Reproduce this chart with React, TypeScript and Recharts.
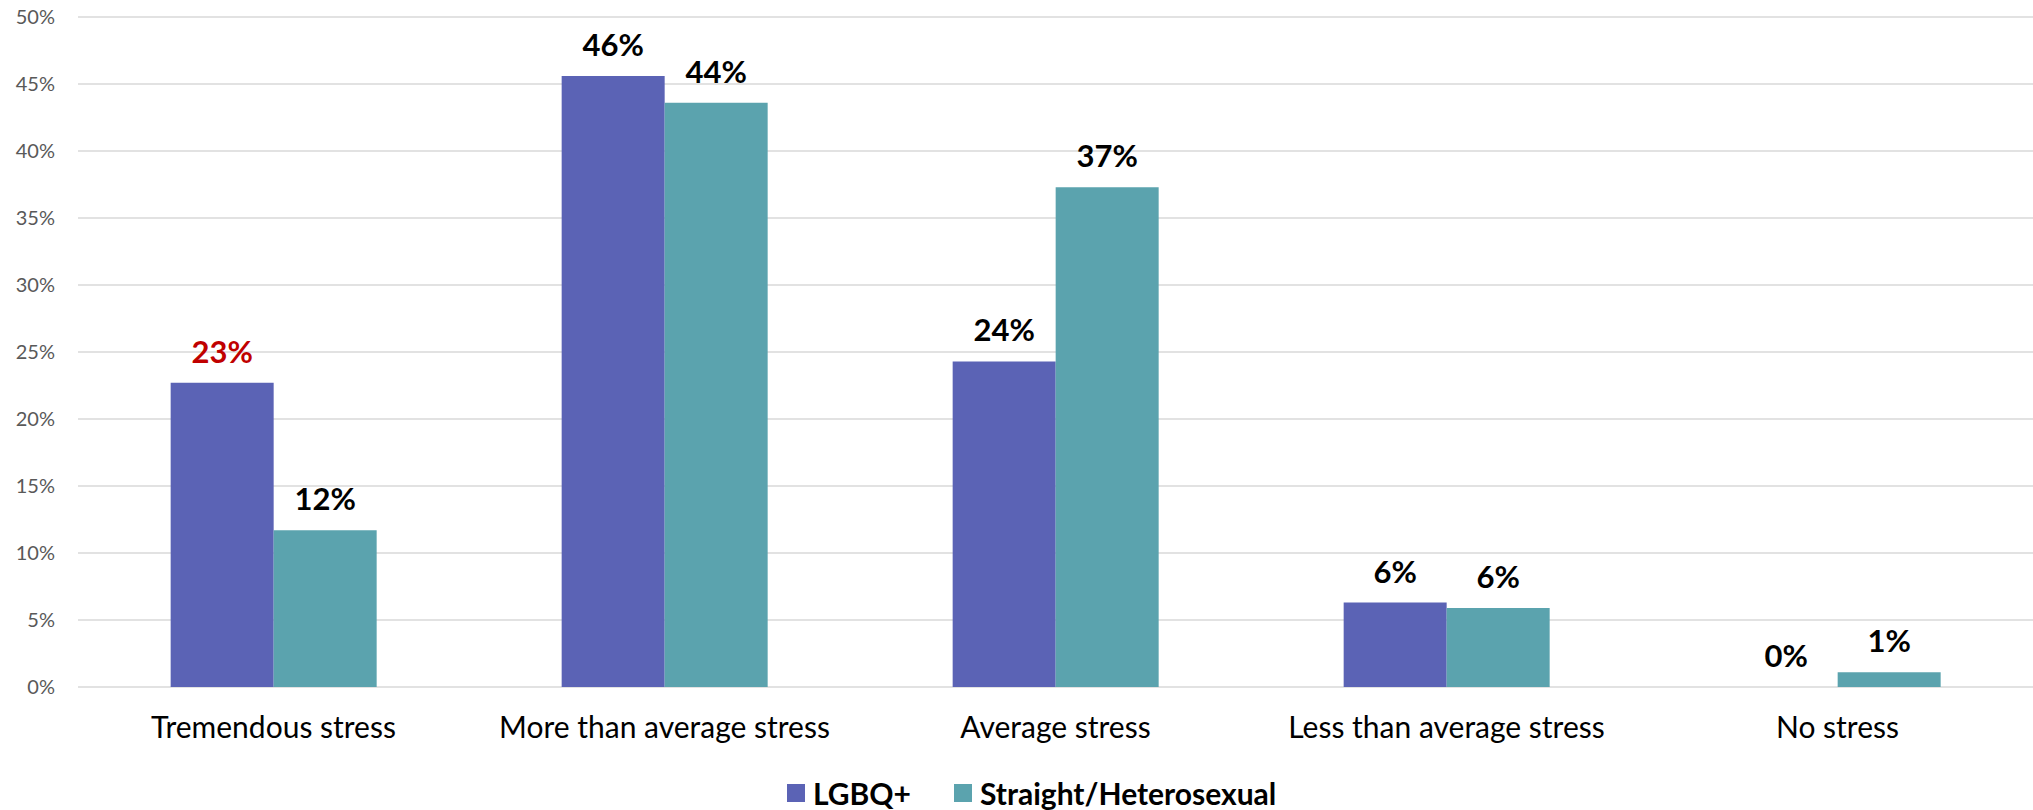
import React from "react";
import { BarChart, Bar, XAxis, YAxis, CartesianGrid, Legend, LabelList } from "recharts";

const categories = [
  "Tremendous stress",
  "More than average stress",
  "Average stress",
  "Less than average stress",
  "No stress",
];
const lgbqValues = [22.7, 45.6, 24.3, 6.3, 0];
const straightValues = [11.7, 43.6, 37.3, 5.9, 1.1];
const yTicks = [0, 5, 10, 15, 20, 25, 30, 35, 40, 45, 50];
const seriesNames = ["LGBQ+", "Straight/Heterosexual"];
const seriesColors = ["#5B63B5", "#5BA3AE"];
const highlightIndex = 0;

const data = categories.map((c, i) => ({
  category: c,
  lgbq: lgbqValues[i],
  straight: straightValues[i],
}));

const FONT = "Lato, 'Open Sans', sans-serif";

const labelText = (cx: number, y: number, value: number, red: boolean, key?: string) => (
  <text
    key={key}
    x={cx}
    y={y - 20}
    textAnchor="middle"
    fontFamily={FONT}
    fontWeight={700}
    fontSize={31}
    fill={red ? "#C00000" : "#000000"}
  >
    {Math.round(value)}%
  </text>
);

const lgbqLabel = (props: any) => {
  const { x, y, width, value, index } = props;
  return labelText(x + width / 2, y, value, index === highlightIndex);
};

// The straight-series label also writes the LGBQ+ label where that bar has zero height
// (Recharts does not draw labels for zero-height bars).
const straightLabel = (props: any) => {
  const { x, y, width, height, value, index } = props;
  const base = y + height;
  return (
    <g>
      {labelText(x + width / 2, y, value, false, "s")}
      {lgbqValues[index] === 0 ? labelText(x - width / 2, base, lgbqValues[index], false, "l") : null}
    </g>
  );
};

const LegendContent = () => (
  <div style={{ position: "relative", height: 40, width: 2033 }}>
    {seriesNames.map((n, i) => (
      <div
        key={n}
        style={{
          position: "absolute",
          left: i === 0 ? 787 : 954,
          top: 0,
          height: 40,
          display: "flex",
          alignItems: "center",
          paddingTop: 6,
          boxSizing: "border-box",
        }}
      >
        <span style={{ display: "inline-block", width: 18, height: 18, background: seriesColors[i], marginRight: 8 }} />
        <span style={{ fontFamily: FONT, fontWeight: 700, fontSize: 30, lineHeight: "30px", color: "#000", whiteSpace: "nowrap" }}>{n}</span>
      </div>
    ))}
  </div>
);

export default function App() {
  return (
    <div style={{ position: "absolute", left: 0, top: 0, width: 2033, height: 810, background: "#fff" }}>
      <BarChart
        width={2033}
        height={810}
        data={data}
        margin={{ top: 17, right: 0, left: 0, bottom: 0 }}
        barCategoryGap="23.7%"
        barGap={0}
      >
        <CartesianGrid vertical={false} stroke="#D9D9D9" strokeWidth={1.5} />
        <XAxis
          dataKey="category"
          axisLine={false}
          tickLine={false}
          tickSize={0}
          tickMargin={30}
          height={83}
          interval={0}
          tick={{ fontFamily: FONT, fontSize: 30, fill: "#000" }}
        />
        <YAxis
          width={78}
          domain={[0, 50]}
          ticks={yTicks}
          axisLine={false}
          tickLine={false}
          tickSize={0}
          tickMargin={23}
          tickFormatter={(v: number) => `${v}%`}
          tick={{ fontFamily: FONT, fontSize: 20, fill: "#595959" }}
        />
        <Legend verticalAlign="bottom" content={<LegendContent />} />
        <Bar dataKey="lgbq" name={seriesNames[0]} fill={seriesColors[0]} isAnimationActive={false}>
          <LabelList dataKey="lgbq" content={lgbqLabel} />
        </Bar>
        <Bar dataKey="straight" name={seriesNames[1]} fill={seriesColors[1]} isAnimationActive={false}>
          <LabelList dataKey="straight" content={straightLabel} />
        </Bar>
      </BarChart>
    </div>
  );
}
